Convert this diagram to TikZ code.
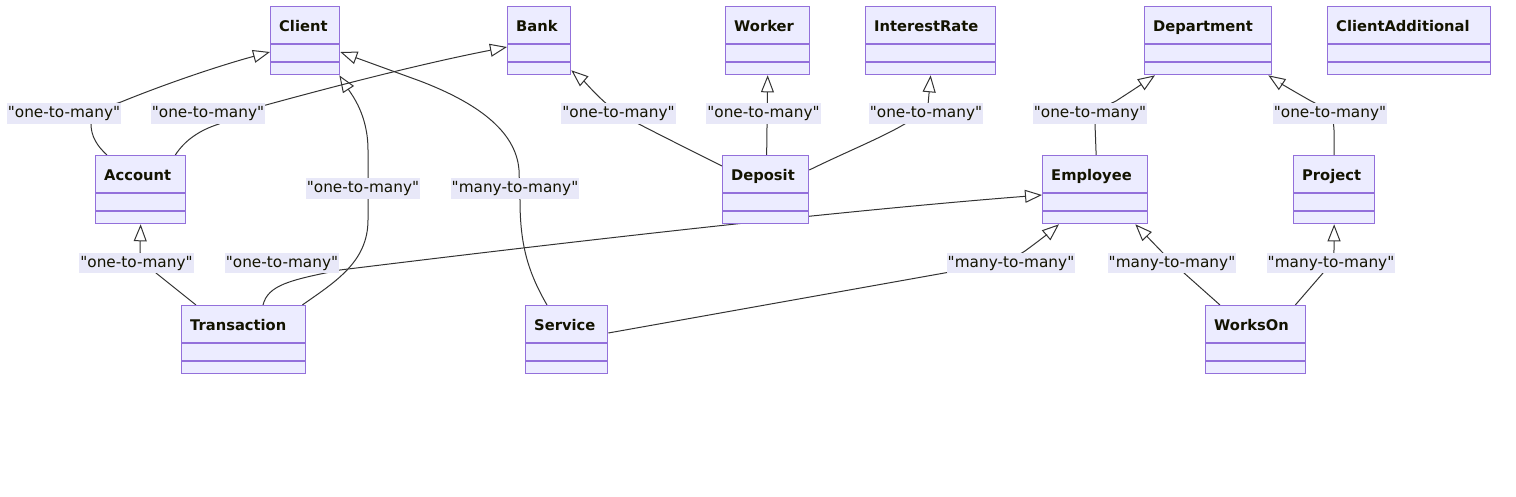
\documentclass[tikz,border=0pt]{standalone}
\usepackage{fontspec}
\setmainfont{DejaVu Sans}
\newfontfamily\plainfont{DejaVu Sans}
\usetikzlibrary{arrows.meta}
\definecolor{boxfill}{HTML}{ECECFF}
\definecolor{boxline}{HTML}{9370DB}
\definecolor{edgecol}{HTML}{333333}
\definecolor{lblfill}{HTML}{E8E8F8}
\definecolor{txtcol}{HTML}{131300}
\pgfdeclarelayer{edges}
\pgfsetlayers{edges,main}
\tikzset{
  clsbox/.style={draw=boxline, fill=boxfill, line width=1.3pt, minimum height=68pt, inner sep=0pt},
  clstitle/.style={anchor=base west, inner sep=0pt, text=txtcol, font=\bfseries\fontsize{14.7}{17}\selectfont},
  divider/.style={draw=boxline, line width=1.2pt},
  rel/.style={draw=edgecol, line width=1pt, -{Triangle[open, length=17pt, width=13pt]}},
  lbl/.style={fill=lblfill, inner xsep=1pt, inner ysep=2.5pt, text height=12pt, text depth=3.5pt, text=txtcol, font=\plainfont\fontsize{15.3}{18}\selectfont}
}
\newcommand{\umlbox}[5]{%
  \node[clsbox, minimum width=#4pt, anchor=north west] (#1) at (#2,#3) {};
  \node[clstitle] (#1-t) at ([xshift=9pt,yshift=-25pt]#1.north west) {#5};
  \draw[divider] ([yshift=-38pt]#1.north west) -- ([yshift=-38pt]#1.north east);
  \draw[divider] ([yshift=-56pt]#1.north west) -- ([yshift=-56pt]#1.north east);
}
\begin{document}
\begin{tikzpicture}[x=1pt, y=-1pt]
\useasboundingbox (0,0) rectangle (1516,496);
% classes
\umlbox{client}{270}{6}{69}{Client}
\umlbox{bank}{507}{6}{63}{Bank}
\umlbox{worker}{725}{6}{84}{Worker}
\umlbox{interest}{865}{6}{130}{InterestRate}
\umlbox{department}{1144}{6}{127}{Department}
\umlbox{clientadd}{1327}{6}{163}{ClientAdditional}
\umlbox{account}{95}{155}{90}{Account}
\umlbox{deposit}{722}{155}{86}{Deposit}
\umlbox{employee}{1042}{155}{105}{Employee}
\umlbox{project}{1293}{155}{81}{Project}
\umlbox{transaction}{181}{305}{124}{Transaction}
\umlbox{service}{525}{305}{82}{Service}
\umlbox{workson}{1205}{305}{100}{WorksOn}
% connectors
\begin{pgfonlayer}{edges}
\draw[rel] ([xshift=12pt]account.north west) .. controls (97,146) and (91,136) .. (91,124) .. controls (91,112) and (105,107) .. (121,102) .. controls (170,82) and (225,64) .. ([yshift=-46pt]client.north west);
\draw[rel] ([xshift=-11pt]account.north east) .. controls (185,140) and (200,130) .. (219,124) .. controls (235,115) and (250,108) .. (266,105) .. controls (350,82) and (430,62) .. ([yshift=-41pt]bank.north west);
\draw[rel] ([xshift=-4pt]transaction.north east) .. controls (335,282) and (368,262) .. (368,220) -- (368,150) .. controls (368,115) and (352,95) .. ([xshift=-1pt]client.south east);
\draw[rel] ([xshift=22pt]service.north west) .. controls (528,272) and (520,245) .. (520,200) -- (519,170) .. controls (516,130) and (475,102) .. (420,81) -- ([yshift=-46pt]client.north east);
\draw[rel] ([yshift=-11pt]deposit.north west) .. controls (680,145) and (640,125) .. (618,113) .. controls (600,100) and (585,82) .. ([yshift=5pt]bank.south east);
\draw[rel] ([xshift=1pt]deposit.north) -- (worker.south);
\draw[rel] ([yshift=-15pt]deposit.north east) .. controls (860,145) and (915,125) .. (928,105) -- (interest.south);
\draw[rel] ([xshift=1pt]employee.north) -- (1095,124) .. controls (1095,112) and (1105,106) .. (1116,101) .. controls (1130,92) and (1145,82) .. ([xshift=11pt]department.south west);
\draw[rel] (project.north) -- (1334,130) .. controls (1334,115) and (1325,108) .. (1311,101) .. controls (1295,92) and (1280,83) .. ([xshift=-4pt]department.south east);
\draw[rel] ([xshift=15pt]transaction.north west) -- (156,273) .. controls (145,263) and (140,258) .. (140,250) -- (account.south);
\draw[rel] ([xshift=82pt]transaction.north west) .. controls (268,285) and (290,280) .. (340,270) .. controls (600,238) and (850,210) .. ([yshift=-40pt]employee.north west);
\draw[rel] ([yshift=-28pt]service.north east) -- (950,272) .. controls (990,265) and (1015,258) .. (1025,251) .. controls (1040,240) and (1050,232) .. ([xshift=17pt]employee.south west);
\draw[rel] ([xshift=15pt]workson.north west) -- (1184,273) .. controls (1175,265) and (1168,258) .. (1162,252) -- ([xshift=-13pt]employee.south east);
\draw[rel] ([xshift=-11pt]workson.north east) -- (1323,273) .. controls (1330,265) and (1334,258) .. (1334,250) -- (project.south);
\end{pgfonlayer}
% labels
\node[lbl] (lAC) at (64,113.5) {"one-to-many"};
\node[lbl] (lAB) at (208,113.5) {"one-to-many"};
\node[lbl] (lDB) at (618.5,113.5) {"one-to-many"};
\node[lbl] (lDW) at (763.5,113.5) {"one-to-many"};
\node[lbl] (lDI) at (926,113.5) {"one-to-many"};
\node[lbl] (lED) at (1090,113.5) {"one-to-many"};
\node[lbl] (lPD) at (1330,113.5) {"one-to-many"};
\node[lbl] (lTC) at (363,188.5) {"one-to-many"};
\node[lbl] (lSC) at (515,188.5) {"many-to-many"};
\node[lbl] (lTA) at (136.5,263) {"one-to-many"};
\node[lbl] (lTE) at (282,263) {"one-to-many"};
\node[lbl] (lSE) at (1011,263) {"many-to-many"};
\node[lbl] (lWE) at (1172,263) {"many-to-many"};
\node[lbl] (lWP) at (1331,263) {"many-to-many"};
\end{tikzpicture}
\end{document}
